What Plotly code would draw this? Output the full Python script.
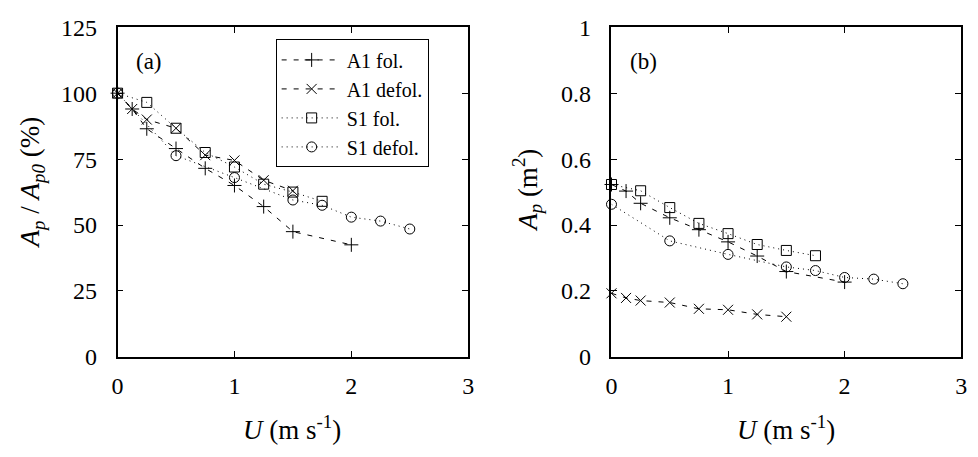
import plotly.graph_objects as go

# ---- data ----
u_a1_fol = [0, 0.125, 0.25, 0.5, 0.75, 1.0, 1.25, 1.5, 2.0]
pct_a1_fol = [100, 94, 86.5, 79, 71.5, 65, 57, 47.5, 42.5]
ap_a1_fol = [0.523, 0.503, 0.466, 0.422, 0.386, 0.349, 0.306, 0.259, 0.227]

u_a1_def = [0, 0.125, 0.25, 0.5, 0.75, 1.0, 1.25, 1.5]
pct_a1_def = [100, 94, 90, 86.7, 76.5, 74.5, 67, 63]
ap_a1_def = [0.193, 0.179, 0.171, 0.165, 0.146, 0.143, 0.129, 0.122]

u_s1_fol = [0, 0.25, 0.5, 0.75, 1.0, 1.25, 1.5, 1.75]
pct_s1_fol = [100, 96.5, 86.7, 77.5, 72, 65.5, 62.5, 59]
ap_s1_fol = [0.523, 0.504, 0.453, 0.405, 0.374, 0.341, 0.323, 0.307]

u_s1_def = [0, 0.5, 1.0, 1.5, 1.75, 2.0, 2.25, 2.5]
pct_s1_def = [100, 76.3, 68, 59.5, 57.5, 53, 51.5, 48.5]
ap_s1_def = [0.463, 0.352, 0.311, 0.273, 0.262, 0.241, 0.236, 0.222]

names = ["A1 fol.", "A1 defol.", "S1 fol.", "S1 defol."]
FONT = "Liberation Serif"

series = [
    (names[0], u_a1_fol, pct_a1_fol, ap_a1_fol, "cross-thin", "5px,7px"),
    (names[1], u_a1_def, pct_a1_def, ap_a1_def, "x-thin", "5px,7px"),
    (names[2], u_s1_fol, pct_s1_fol, ap_s1_fol, "square-open", "1px,4px"),
    (names[3], u_s1_def, pct_s1_def, ap_s1_def, "circle-open", "1px,4px"),
]

fig = go.Figure()
for name, u, pct, ap, sym, dash in series:
    common = dict(
        mode="lines+markers",
        line=dict(color="black", width=1, dash=dash),
        marker=dict(symbol=sym, size=10, color="black",
                    line=dict(color="black", width=1)),
        cliponaxis=False,
    )
    fig.add_trace(go.Scatter(x=u, y=pct, name=name, xaxis="x", yaxis="y",
                             showlegend=True, **common))
    fig.add_trace(go.Scatter(x=u, y=ap, name=name, xaxis="x2", yaxis="y2",
                             showlegend=False, **common))

# empty traces so the overlay (inside-tick) axes are drawn
fig.add_trace(go.Scatter(x=[], y=[], xaxis="x3", yaxis="y3", showlegend=False))
fig.add_trace(go.Scatter(x=[], y=[], xaxis="x4", yaxis="y4", showlegend=False))

DOM_A = [0.1155, 0.4785]
DOM_B = [0.6268, 0.9888]
DOM_Y = [0.202, 0.967]
XR, YRA, YRB = [0, 3], [0, 125], [0, 1]

# label-carrying axes: transparent outside ticks push labels away
lab_ax = dict(
    showline=True, mirror=True, linecolor="black", linewidth=1.5,
    ticks="outside", tickcolor="rgba(0,0,0,0)",
    showgrid=False, zeroline=False,
    tickfont=dict(family=FONT, size=24, color="black"),
)
# overlay axes: visible inside ticks, mirrored, no labels
tick_ax = dict(
    showline=True, linecolor="black", linewidth=1.5,
    ticks="inside", ticklen=6, tickcolor="black",
    tickwidth=1, mirror="ticks", showgrid=False, zeroline=False,
    showticklabels=False,
)

fig.update_layout(
    width=978, height=457,
    margin=dict(l=0, r=0, t=0, b=0),
    paper_bgcolor="white", plot_bgcolor="rgba(0,0,0,0)",
    font=dict(family=FONT, color="black"),
    xaxis=dict(domain=DOM_A, range=XR, dtick=1, anchor="y", ticklen=7, **lab_ax),
    yaxis=dict(domain=DOM_Y, range=YRA, dtick=25, anchor="x", ticklen=14, **lab_ax),
    xaxis2=dict(domain=DOM_B, range=XR, dtick=1, anchor="y2", ticklen=7, **lab_ax),
    yaxis2=dict(domain=DOM_Y, range=YRB, dtick=0.2, anchor="x2", ticklen=14, **lab_ax),
    xaxis3=dict(overlaying="x", range=XR, dtick=1, anchor="y3", **tick_ax),
    yaxis3=dict(overlaying="y", range=YRA, dtick=25, anchor="x3", **tick_ax),
    xaxis4=dict(overlaying="x2", range=XR, dtick=1, anchor="y4", **tick_ax),
    yaxis4=dict(overlaying="y2", range=YRB, dtick=0.2, anchor="x4", **tick_ax),
    legend=dict(x=273 / 978, y=1 - 28 / 457, xanchor="left", yanchor="top",
                bordercolor="black", borderwidth=1, bgcolor="white",
                itemwidth=60,
                font=dict(family=FONT, size=20, color="black")),
    showlegend=True,
)

lab = dict(xref="paper", yref="paper", showarrow=False,
           xanchor="center", yanchor="middle")
ann = [
    dict(text="(a)", x=145 / 978, y=1 - 51 / 457, font=dict(size=23), **lab),
    dict(text="(b)", x=645 / 978, y=1 - 51 / 457, font=dict(size=23), **lab),
    dict(text="<i>U</i> (m s<sup>-1</sup>)", x=290 / 978, y=1 - 440 / 457,
         font=dict(size=27), **lab),
    dict(text="<i>U</i> (m s<sup>-1</sup>)", x=790 / 978, y=1 - 440 / 457,
         font=dict(size=27), **lab),
    dict(text="<i>A<sub>p</sub></i> / <i>A<sub>p0</sub></i> (%)",
         x=26 / 978, y=1 - 180 / 457, textangle=-90, font=dict(size=27), **lab),
    dict(text="<i>A<sub>p</sub></i> (m<sup>2</sup>)",
         x=528 / 978, y=1 - 188 / 457, textangle=-90, font=dict(size=27), **lab),
]
fig.update_layout(annotations=ann)

fig.write_html("out.html")
